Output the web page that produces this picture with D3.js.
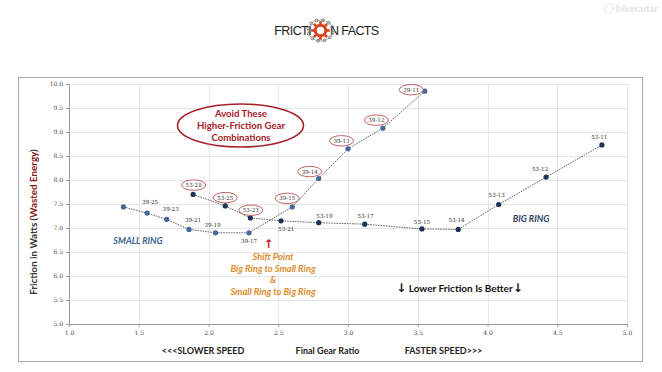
<!DOCTYPE html>
<html>
<head>
<meta charset="utf-8">
<script src="https://cdn.jsdelivr.net/npm/d3@7"></script>
<style>
    html, body { margin: 0; padding: 0; background: #fff; }
    svg { display: block; font-family: Lato, "Liberation Sans", sans-serif; }
</style>
</head>
<body>
<div id="chart"></div>
<script>
// Friction Facts - friction by final gear ratio, 39T vs 53T chainring

const smallRingLabels = ['39-28', '39-25', '39-23', '39-21', '39-19', '39-17', '39-15', '39-14', '39-13', '39-12', '39-11'];
const smallRingRatio = [1.39, 1.56, 1.70, 1.86, 2.05, 2.29, 2.60, 2.79, 3.00, 3.25, 3.55];
const smallRingWatts = [7.44, 7.31, 7.18, 6.97, 6.90, 6.90, 7.44, 8.03, 8.65, 9.08, 9.85];

const bigRingLabels = ['53-28', '53-25', '53-23', '53-21', '53-19', '53-17', '53-15', '53-14', '53-13', '53-12', '53-11'];
const bigRingRatio = [1.89, 2.12, 2.30, 2.52, 2.79, 3.12, 3.53, 3.79, 4.08, 4.42, 4.82];
const bigRingWatts = [7.70, 7.46, 7.21, 7.15, 7.11, 7.08, 6.98, 6.97, 7.49, 8.06, 8.73];

// combinations circled in red on the original slide
const avoidLabels = ['53-28', '53-25', '53-23', '39-15', '39-14', '39-13', '39-12', '39-11'];

const xTicks = [1.0, 1.5, 2.0, 2.5, 3.0, 3.5, 4.0, 4.5, 5.0];
const yTicks = [5.0, 5.5, 6.0, 6.5, 7.0, 7.5, 8.0, 8.5, 9.0, 9.5, 10.0];

// label offsets from each point (px), null = no label
const smallLabelOffsets = [null, [3, -11], [4, -10], [4, -9], [-3, -7.5], [0, 8.5], [-5, -8.5], [-9, -7], [-6.5, -8], [-6.5, -8], [-13.5, -1.5]];
const bigLabelOffsets = [[0.5, -9.3], [0, -8.3], [0.5, -7.7], [5.3, 8.3], [5.7, -7], [0.7, -8.3], [0, -7.3], [-1.7, -9.3], [-2, -9.7], [-6, -7.7], [-2.7, -7.7]];

const width = 662;
const height = 372;
const plot = { left: 69, right: 627, top: 84, bottom: 324 };

const svg = d3.select('#chart')
    .append('svg')
    .attr('width', width)
    .attr('height', height);

// ---- logo + watermark ----
function drawLogo() {
    const logo = svg.append('g');
    logo.append('text')
        .attr('x', 311).attr('y', 35)
        .attr('text-anchor', 'end')
        .attr('font-family', '"Liberation Sans", Arial, sans-serif')
        .attr('font-size', 12.5)
        .attr('letter-spacing', -0.6)
        .attr('fill', '#1a1a1a')
        .text('FRICTI');
    logo.append('text')
        .attr('x', 330).attr('y', 35)
        .attr('font-family', '"Liberation Sans", Arial, sans-serif')
        .attr('font-size', 12.5)
        .attr('letter-spacing', -0.6)
        .attr('fill', '#1a1a1a')
        .text('N FACTS');
    const cx = 320.5, cy = 30.5;
    // chain links round the gear
    const links = d3.range(12).map((i) => i * Math.PI * 2 / 12 + 0.2);
    logo.selectAll('circle.link').data(links).enter().append('circle')
        .attr('class', 'link')
        .attr('cx', (a) => cx + Math.cos(a) * 12.5)
        .attr('cy', (a) => cy + Math.sin(a) * 10.5)
        .attr('r', 1.4)
        .attr('fill', 'none')
        .attr('stroke', '#666')
        .attr('stroke-width', 0.8);
    logo.append('ellipse')
        .attr('cx', cx).attr('cy', cy)
        .attr('rx', 12.5).attr('ry', 10.5)
        .attr('fill', 'none')
        .attr('stroke', '#777')
        .attr('stroke-width', 0.6);
    const teeth = d3.range(8).map((i) => i * 45);
    logo.selectAll('rect.tooth').data(teeth).enter().append('rect')
        .attr('class', 'tooth')
        .attr('x', cx - 1.3).attr('y', cy - 9.3)
        .attr('width', 2.6).attr('height', 3)
        .attr('fill', '#d9441c')
        .attr('transform', (d) => `rotate(${d}, ${cx}, ${cy})`);
    logo.append('circle')
        .attr('cx', cx).attr('cy', cy)
        .attr('r', 5.3)
        .attr('fill', 'none')
        .attr('stroke', '#d9441c')
        .attr('stroke-width', 3);

    const mark = svg.append('g').attr('fill', '#e2e2e2');
    mark.append('circle')
        .attr('cx', 609).attr('cy', 8.5).attr('r', 4.5)
        .attr('fill', 'none').attr('stroke', '#e2e2e2').attr('stroke-width', 1.2);
    mark.append('text')
        .attr('x', 616).attr('y', 12)
        .attr('font-size', 10)
        .attr('font-weight', 'bold')
        .text('bikeradar');
}

drawLogo();

// ---- frame ----
svg.append('rect')
    .attr('x', 18.5).attr('y', 77.5)
    .attr('width', 624).attr('height', 284)
    .attr('fill', '#fff')
    .attr('stroke', '#a6a6a6')
    .attr('stroke-width', 1);

const x = d3.scaleLinear().domain([1, 5]).range([plot.left, plot.right]);
const y = d3.scaleLinear().domain([5, 10]).range([plot.bottom, plot.top]);

// ---- grid ----
const grid = svg.append('g').attr('stroke', '#e6e6e6').attr('stroke-width', 1);
grid.selectAll('line.gx').data(xTicks.slice(1)).enter().append('line')
    .attr('x1', (d) => Math.round(x(d)) + 0.5).attr('x2', (d) => Math.round(x(d)) + 0.5)
    .attr('y1', plot.top).attr('y2', plot.bottom);
grid.selectAll('line.gy').data(yTicks.slice(1)).enter().append('line')
    .attr('y1', (d) => Math.round(y(d)) + 0.5).attr('y2', (d) => Math.round(y(d)) + 0.5)
    .attr('x1', plot.left).attr('x2', plot.right);

// ---- axes ----
const xAxis = svg.append('g')
    .attr('transform', `translate(0, ${plot.bottom})`)
    .call(d3.axisBottom(x).tickValues(xTicks).tickFormat(d3.format('.1f')).tickSize(3).tickPadding(4));
const yAxis = svg.append('g')
    .attr('transform', `translate(${plot.left}, 0)`)
    .call(d3.axisLeft(y).tickValues(yTicks).tickFormat(d3.format('.1f')).tickSize(3).tickPadding(3));
[xAxis, yAxis].forEach((ax) => {
    ax.select('.domain').attr('stroke', '#9a9a9a');
    ax.selectAll('.tick line').attr('stroke', '#9a9a9a');
    ax.selectAll('.tick text')
        .attr('font-family', '"DejaVu Serif", serif')
        .attr('font-size', 6)
        .attr('fill', '#444');
});

// ---- axis titles ----
const yTitle = svg.append('text')
    .attr('transform', 'translate(37, 222) rotate(-90)')
    .attr('text-anchor', 'middle')
    .attr('font-size', 9.8)
    .attr('font-weight', 'bold')
    .attr('fill', '#333');
yTitle.append('tspan').text('Friction in Watts (');
yTitle.append('tspan').attr('fill', '#8b1a1a').text('Wasted Energy');
yTitle.append('tspan').text(')');

const bottomTitles = [['<<<SLOWER SPEED', 203], ['Final Gear Ratio', 327.5], ['FASTER SPEED>>>', 443.5]];
svg.selectAll('text.btitle').data(bottomTitles).enter().append('text')
    .attr('class', 'btitle')
    .attr('x', (d) => d[1]).attr('y', 353.5)
    .attr('text-anchor', 'middle')
    .attr('font-size', 9)
    .attr('font-weight', 'bold')
    .attr('fill', '#222')
    .text((d) => d[0]);

// ---- series ----
function buildSeries(labels, ratios, watts, offsets) {
    return labels.map((label, i) => ({ label, ratio: ratios[i], watts: watts[i], offset: offsets[i] }));
}

const smallRing = buildSeries(smallRingLabels, smallRingRatio, smallRingWatts, smallLabelOffsets);
const bigRing = buildSeries(bigRingLabels, bigRingRatio, bigRingWatts, bigLabelOffsets);

const line = d3.line().x((d) => x(d.ratio)).y((d) => y(d.watts));

function drawSeries(data, pointColor) {
    const g = svg.append('g');
    g.append('path')
        .datum(data)
        .attr('d', line)
        .attr('fill', 'none')
        .attr('stroke', '#555')
        .attr('stroke-width', 0.9)
        .attr('stroke-dasharray', '1.6,1');
    g.selectAll('circle').data(data).enter().append('circle')
        .attr('cx', (d) => x(d.ratio))
        .attr('cy', (d) => y(d.watts))
        .attr('r', 2.6)
        .attr('fill', pointColor);
    const labelled = data.filter((d) => d.offset);
    const lg = g.selectAll('g.lbl').data(labelled).enter().append('g')
        .attr('class', 'lbl')
        .attr('transform', (d) => `translate(${x(d.ratio) + d.offset[0]}, ${y(d.watts) + d.offset[1]})`);
    lg.filter((d) => avoidLabels.includes(d.label)).append('ellipse')
        .attr('rx', 12)
        .attr('ry', 5.2)
        .attr('fill', '#fff')
        .attr('stroke', '#b33a3a')
        .attr('stroke-width', 0.8);
    lg.append('text')
        .attr('y', 2)
        .attr('text-anchor', 'middle')
        .attr('font-family', '"DejaVu Serif", serif')
        .attr('font-size', 5.6)
        .attr('fill', '#333')
        .text((d) => d.label);
}

drawSeries(smallRing, '#46679a');
drawSeries(bigRing, '#1d3257');

// ---- annotations ----
svg.append('ellipse')
    .attr('cx', 240.5).attr('cy', 125.5)
    .attr('rx', 63).attr('ry', 21.5)
    .attr('fill', '#fff')
    .attr('stroke', '#a8202a')
    .attr('stroke-width', 1.6);
const avoidLines = ['Avoid These', 'Higher-Friction Gear', 'Combinations'];
svg.selectAll('text.avoid').data(avoidLines).enter().append('text')
    .attr('class', 'avoid')
    .attr('x', 241).attr('y', (d, i) => 117 + i * 12)
    .attr('text-anchor', 'middle')
    .attr('font-size', 9.6)
    .attr('font-weight', 'bold')
    .attr('fill', '#a8202a')
    .text((d) => d);

svg.append('text')
    .attr('x', 138).attr('y', 244)
    .attr('text-anchor', 'middle')
    .attr('font-size', 9)
    .attr('font-weight', 'bold')
    .attr('font-style', 'italic')
    .attr('fill', '#3d5f8f')
    .text('SMALL RING');
svg.append('text')
    .attr('x', 531).attr('y', 221.5)
    .attr('text-anchor', 'middle')
    .attr('font-size', 9)
    .attr('font-weight', 'bold')
    .attr('font-style', 'italic')
    .attr('fill', '#2b3e5e')
    .text('BIG RING');

svg.append('text')
    .attr('x', 268.5).attr('y', 248)
    .attr('text-anchor', 'middle')
    .attr('font-family', '"DejaVu Sans", sans-serif')
    .attr('font-size', 12)
    .attr('font-weight', 'bold')
    .attr('fill', '#c0262d')
    .text('↑');
const shiftLines = ['Shift Point', 'Big Ring to Small Ring', '&', 'Small Ring to Big Ring'];
svg.selectAll('text.shift').data(shiftLines).enter().append('text')
    .attr('class', 'shift')
    .attr('x', 273).attr('y', (d, i) => 260 + i * 11.7)
    .attr('text-anchor', 'middle')
    .attr('font-size', 9.3)
    .attr('font-weight', 'bold')
    .attr('font-style', 'italic')
    .attr('fill', '#dc8c2c')
    .text((d) => d);

const better = svg.append('text')
    .attr('x', 459.5).attr('y', 292)
    .attr('text-anchor', 'middle')
    .attr('font-size', 10)
    .attr('font-weight', 'bold')
    .attr('fill', '#111');
better.append('tspan').attr('font-family', '"DejaVu Sans", sans-serif').attr('font-size', 12).text('↓');
better.append('tspan').text(' Lower Friction Is Better');
better.append('tspan').attr('font-family', '"DejaVu Sans", sans-serif').attr('font-size', 12).text('↓');
</script>
</body>
</html>
